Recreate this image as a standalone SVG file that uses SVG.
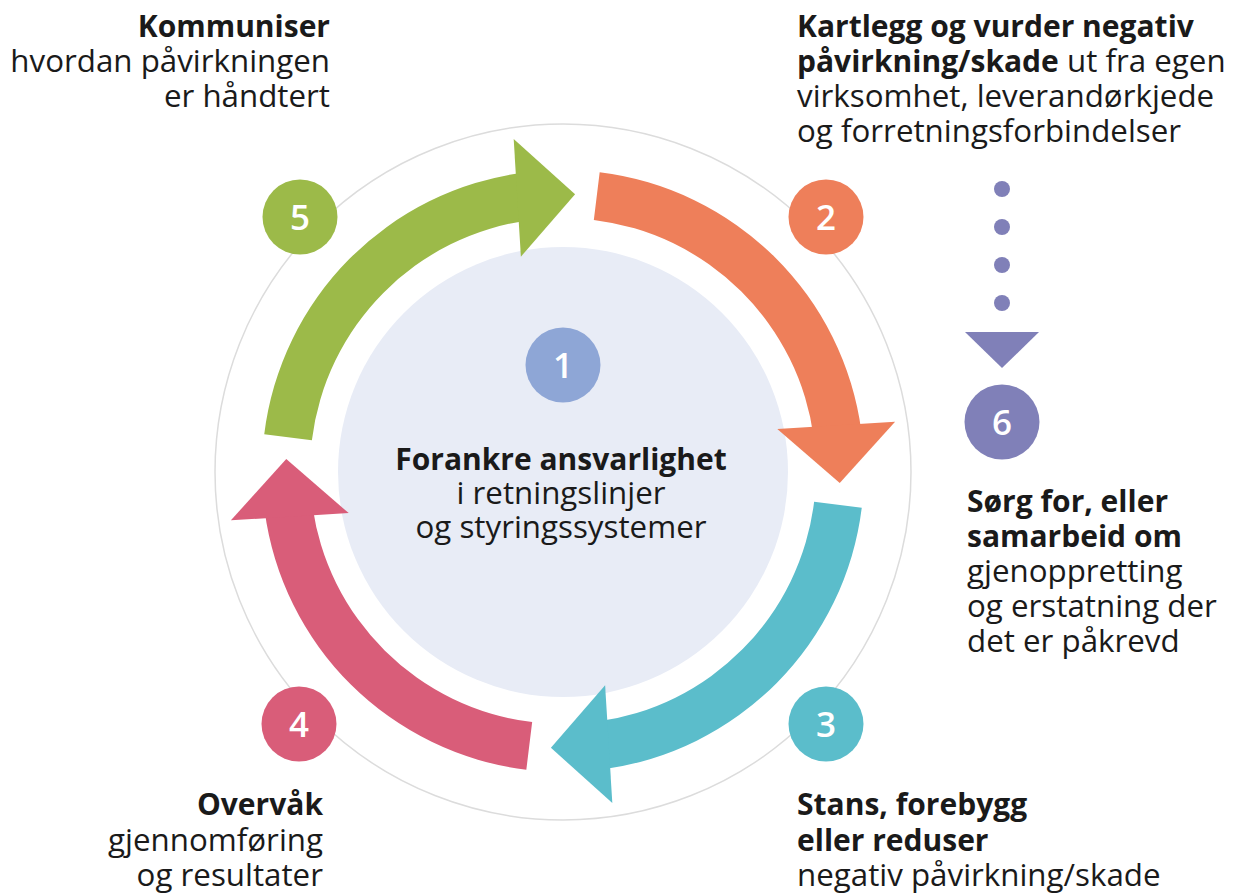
<svg xmlns="http://www.w3.org/2000/svg" width="1235" height="895" viewBox="0 0 1235 895">
  <style>
    .t { font-family: "Open Sans", "Liberation Sans", sans-serif; font-size: 31.3px; fill: #1a1a1a; }
    .b { font-weight: 700; font-size: 30px; }
    .num { font-family: "Open Sans", "Liberation Sans", sans-serif; font-size: 35px; font-weight: 600; fill: #ffffff; text-anchor: middle; }
    .ring { fill: none; stroke: #dcdcdc; stroke-width: 1.5; }
  </style>
  <defs>
    <g id="arrowShape">
      <path d="M 599.68 172.24 A 301 301 0 0 1 861.42 431.71 L 813.83 437.98 A 253 253 0 0 0 593.83 219.88 Z"/>
      <path d="M 895.09 421.68 L 839.74 483.08 L 777.31 428.88 Z"/>
    </g>
  </defs>
  <rect width="1235" height="895" fill="#ffffff"/>

  <g id="background">
    <circle class="ring" cx="563" cy="472" r="348"/>
    <circle cx="563" cy="472" r="225" fill="#e8ecf6"/>
  </g>

  <g id="connectors">
    <use href="#arrowShape" fill="#ee7f5a"/>
    <use href="#arrowShape" fill="#5bbdcb" transform="rotate(90 563 471)"/>
    <use href="#arrowShape" fill="#d95d79" transform="rotate(180 563 471)"/>
    <use href="#arrowShape" fill="#9cba49" transform="rotate(-90 563 471)"/>
    <g id="dots" fill="#8080b8">
      <circle cx="1002" cy="189" r="8"/>
      <circle cx="1002" cy="227" r="8"/>
      <circle cx="1002" cy="265" r="8"/>
      <circle cx="1002" cy="303" r="8"/>
      <path d="M 965 332 L 1039 332 L 1002 368 Z"/>
    </g>
  </g>

  <g id="node1">
    <circle cx="563" cy="365" r="37.5" fill="#8ea6d6"/>
    <text class="num" x="563" y="377.5">1</text>
    <text class="t b" x="561" y="470" text-anchor="middle">Forankre ansvarlighet</text>
    <text class="t" x="561" y="504" text-anchor="middle">i retningslinjer</text>
    <text class="t" x="561" y="538" text-anchor="middle">og styringssystemer</text>
  </g>

  <g id="node2">
    <circle cx="826" cy="217" r="37.5" fill="#ee7f5a"/>
    <text class="num" x="826" y="229.5">2</text>
    <text class="t b" x="797" y="37">Kartlegg og vurder negativ</text>
    <text class="t" x="797" y="72"><tspan class="b">påvirkning/skade</tspan> ut fra egen</text>
    <text class="t" x="797" y="107">virksomhet, leverandørkjede</text>
    <text class="t" x="797" y="142">og forretningsforbindelser</text>
  </g>

  <g id="node3">
    <circle cx="826" cy="724" r="37.5" fill="#5bbdcb"/>
    <text class="num" x="826" y="736.5">3</text>
    <text class="t b" x="797" y="815">Stans, forebygg</text>
    <text class="t b" x="797" y="851">eller reduser</text>
    <text class="t" x="797" y="886">negativ påvirkning/skade</text>
  </g>

  <g id="node4">
    <circle cx="299" cy="724" r="37.5" fill="#d95d79"/>
    <text class="num" x="299" y="736.5">4</text>
    <text class="t b" x="323" y="815" text-anchor="end">Overvåk</text>
    <text class="t" x="323" y="851" text-anchor="end">gjennomføring</text>
    <text class="t" x="323" y="886" text-anchor="end">og resultater</text>
  </g>

  <g id="node5">
    <circle cx="300" cy="217" r="37.5" fill="#9cba49"/>
    <text class="num" x="300" y="229.5">5</text>
    <text class="t b" x="330" y="37" text-anchor="end">Kommuniser</text>
    <text class="t" x="330" y="72" text-anchor="end">hvordan påvirkningen</text>
    <text class="t" x="330" y="107" text-anchor="end">er håndtert</text>
  </g>

  <g id="node6">
    <circle cx="1002" cy="422" r="37.5" fill="#8080b8"/>
    <text class="num" x="1002" y="434.5">6</text>
    <text class="t b" x="967" y="512">Sørg for, eller</text>
    <text class="t b" x="967" y="547">samarbeid om</text>
    <text class="t" x="967" y="582">gjenoppretting</text>
    <text class="t" x="967" y="617">og erstatning der</text>
    <text class="t" x="967" y="652">det er påkrevd</text>
  </g>
</svg>
